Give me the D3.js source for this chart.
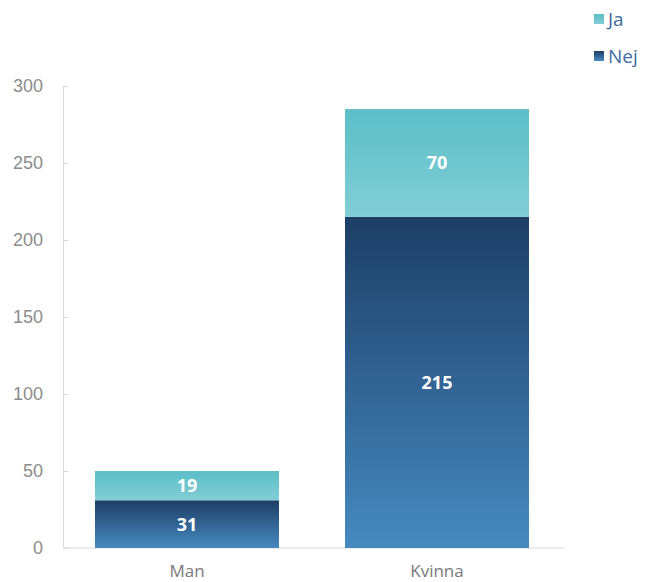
<!DOCTYPE html>
<html>
<head>
<meta charset="utf-8">
<script src="https://cdn.jsdelivr.net/npm/d3@7"></script>
<style>
  html, body { margin: 0; padding: 0; background: #fff; }
  svg { display: block; font-family: "Open Sans", "Noto Sans", sans-serif; }
</style>
</head>
<body>
<svg id="chart" width="646" height="582"></svg>
<script>
// Respondents by gender, stacked Nej (bottom) + Ja (top)
const categories = ["Man", "Kvinna"];
const seriesNames = ["Nej", "Ja"];
const nejValues = [31, 215];
const jaValues = [19, 70];
const yTicks = [0, 50, 100, 150, 200, 250, 300];

const svg = d3.select("#chart");
const W = 646, H = 582;
const plot = { left: 63, right: 561, top: 86, bottom: 548, baselineEnd: 565 };

const x = d3.scaleBand()
  .domain(categories)
  .range([plot.left, plot.right])
  .paddingInner(0.264)
  .paddingOuter(0.128);

const y = d3.scaleLinear()
  .domain([0, 300])
  .range([plot.bottom, plot.top]);

// Vertical gradients per series
const defs = svg.append("defs");
const grads = {
  Ja: ["#5bbec7", "#82ced5"],
  Nej: ["#1d3e66", "#468ac0"]
};
Object.entries(grads).forEach(([k, [c0, c1]]) => {
  const g = defs.append("linearGradient")
    .attr("id", "grad-" + k)
    .attr("x1", 0).attr("y1", 0).attr("x2", 0).attr("y2", 1);
  g.append("stop").attr("offset", "0%").attr("stop-color", c0);
  g.append("stop").attr("offset", "100%").attr("stop-color", c1);
});

// Y axis
const yAxis = d3.axisRight(y).tickValues(yTicks).tickSize(5).tickFormat(d3.format("d"));
const ya = svg.append("g").attr("transform", `translate(${plot.left},0)`).call(yAxis);
ya.select(".domain").attr("stroke", "#d9d9d9");
ya.selectAll(".tick line").attr("stroke", "#d9d9d9");
ya.selectAll(".tick text")
  .attr("x", -20)
  .attr("text-anchor", "end")
  .attr("fill", "#8c8c8c")
  .attr("font-size", "18px");

// Baseline
svg.append("line")
  .attr("x1", plot.left).attr("x2", plot.baselineEnd)
  .attr("y1", y(0)).attr("y2", y(0))
  .attr("stroke", "#d9d9d9");

// Stacked data
const rows = categories.map((c, i) => ({ cat: c, Nej: nejValues[i], Ja: jaValues[i] }));
const stacked = d3.stack().keys(seriesNames)(rows);

const layers = svg.selectAll("g.layer").data(stacked).enter()
  .append("g").attr("class", "layer");

layers.selectAll("rect").data(d => d.map(p => ({ p, key: d.key }))).enter()
  .append("rect")
  .attr("x", d => x(d.p.data.cat))
  .attr("width", x.bandwidth())
  .attr("y", d => y(d.p[1]))
  .attr("height", d => y(d.p[0]) - y(d.p[1]))
  .attr("fill", d => `url(#grad-${d.key})`);

layers.selectAll("text").data(d => d.map(p => ({ p, key: d.key }))).enter()
  .append("text")
  .attr("x", d => x(d.p.data.cat) + x.bandwidth() / 2)
  .attr("y", d => (y(d.p[0]) + y(d.p[1])) / 2)
  .attr("dy", "0.36em")
  .attr("text-anchor", "middle")
  .attr("fill", "#fff")
  .attr("font-weight", "bold")
  .attr("font-size", "18px")
  .text(d => d.p.data[d.key]);

// Category labels
svg.selectAll("text.cat").data(categories).enter()
  .append("text")
  .attr("class", "cat")
  .attr("x", d => x(d) + x.bandwidth() / 2)
  .attr("y", 577)
  .attr("text-anchor", "middle")
  .attr("fill", "#7a7a7a")
  .attr("font-size", "17px")
  .text(d => d);

// Legend
const legendItems = ["Ja", "Nej"];
const lg = svg.selectAll("g.legend").data(legendItems).enter()
  .append("g").attr("class", "legend")
  .attr("transform", (d, i) => `translate(594,${14 + i * 37})`);
lg.append("rect").attr("width", 10).attr("height", 10)
  .attr("fill", d => `url(#grad-${d})`);
lg.append("text").attr("x", 14).attr("y", 5).attr("dy", "0.36em")
  .attr("fill", "#3d6b9e").attr("font-size", "19px")
  .text(d => d);
</script>
</body>
</html>
